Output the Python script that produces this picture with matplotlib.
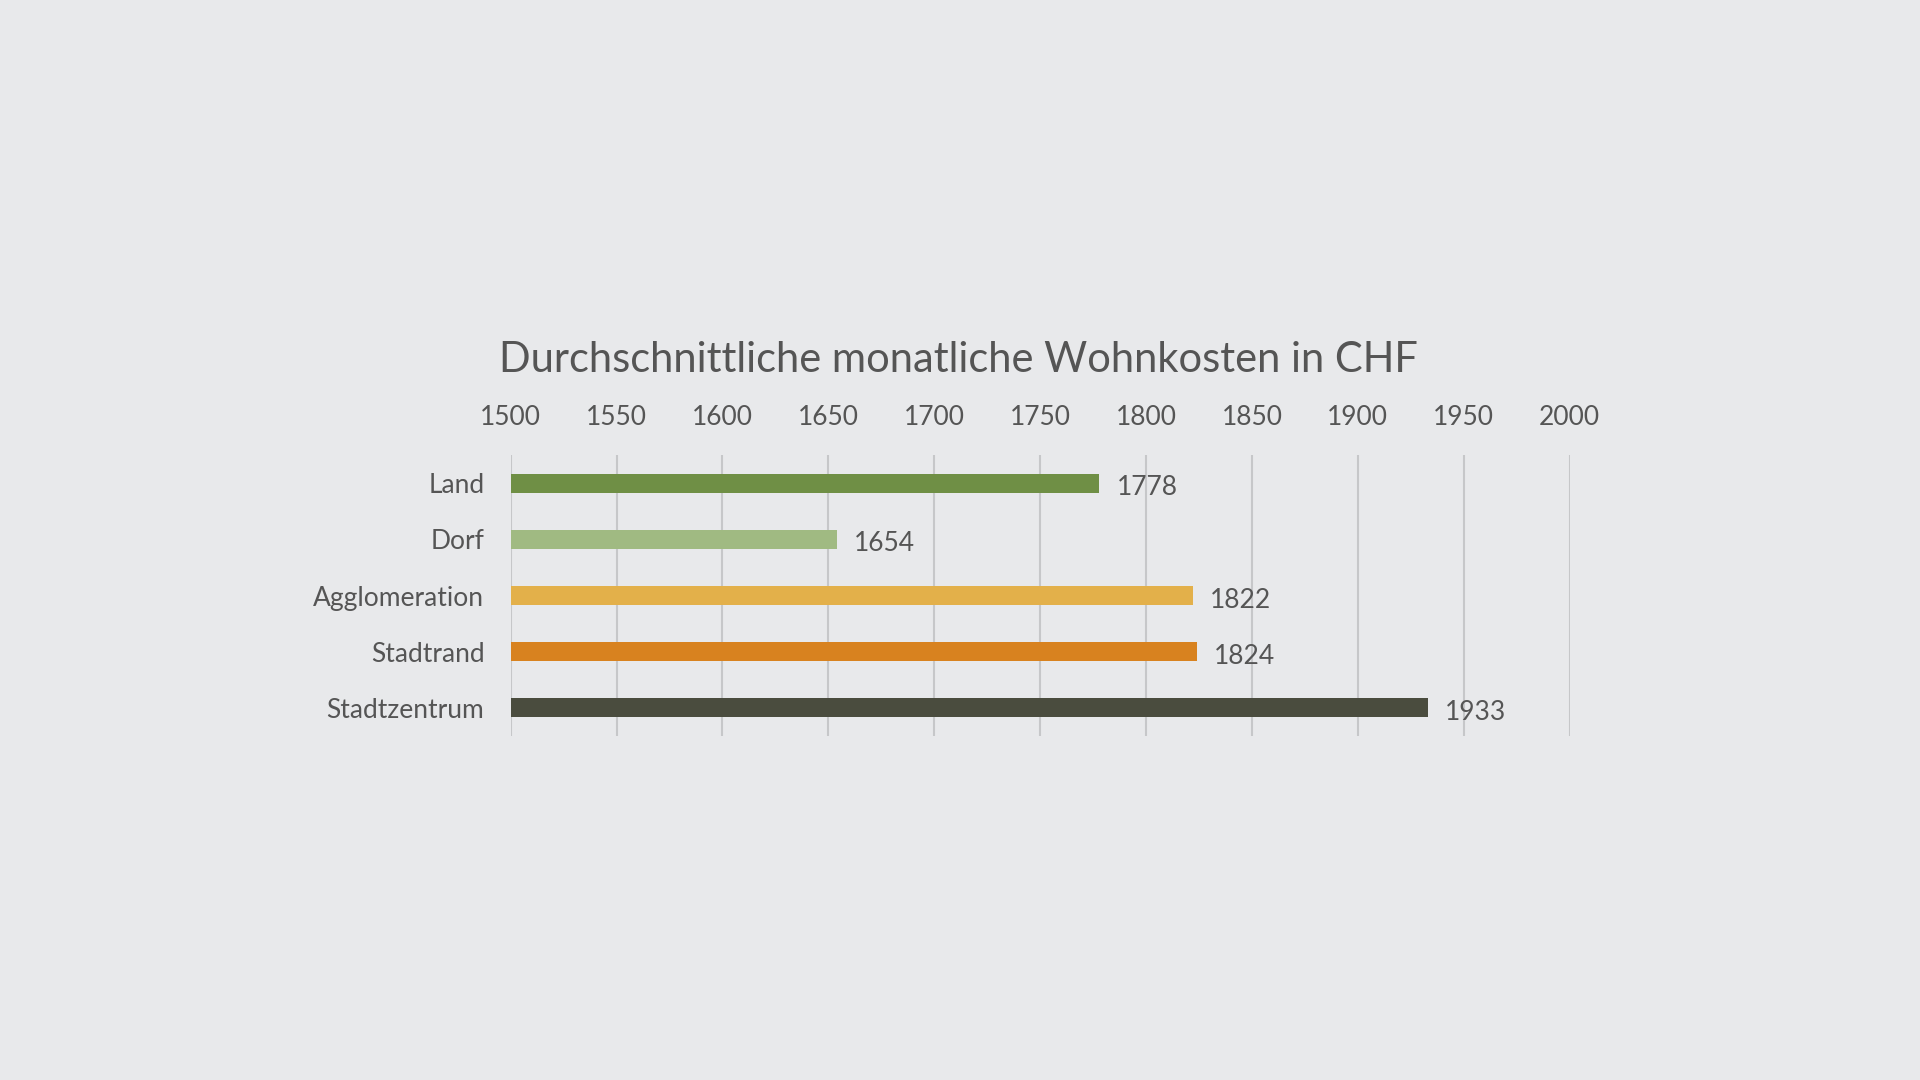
import matplotlib
matplotlib.use("Agg")
import matplotlib.pyplot as plt

# ── data ──────────────────────────────────────────────────────────────
categories = ["Land", "Dorf", "Agglomeration", "Stadtrand", "Stadtzentrum"]
values     = [1778, 1654, 1822, 1824, 1933]
colors     = ["#6f8f45", "#a0ba82", "#e3b04a", "#d8821f", "#4a4c3e"]
x_ticks    = [1500, 1550, 1600, 1650, 1700, 1750, 1800, 1850, 1900, 1950, 2000]
title      = "Durchschnittliche monatliche Wohnkosten in CHF"

BG = "#e8e9eb"
TXT = "#555555"

plt.rcParams["font.family"] = ["Lato", "DejaVu Sans"]

fig = plt.figure(figsize=(19.2, 10.8), dpi=100, facecolor=BG)
ax = fig.add_axes([0.266, 0.3185, 0.5515, 0.2602], facecolor=BG)

ypos = list(range(len(categories)))
ax.barh(ypos, [v - x_ticks[0] for v in values], left=x_ticks[0],
        height=0.34, color=colors, zorder=3)

# value labels just right of each bar
for y, v in zip(ypos, values):
    ax.text(v + 8, y + 0.08, f"{v}", va="center", ha="left",
            fontsize=19, color=TXT, zorder=4)

ax.set_xlim(x_ticks[0], x_ticks[-1])
ax.set_ylim(len(categories) - 0.5, -0.5)
ax.set_xticks(x_ticks)
ax.set_yticks(ypos)
ax.set_yticklabels(categories)
ax.xaxis.tick_top()
ax.tick_params(axis="x", length=0, pad=18, labelsize=19, labelcolor=TXT)
ax.tick_params(axis="y", length=0, pad=19, labelsize=19, labelcolor=TXT)
ax.grid(axis="x", color="#c6c7c9", lw=1.5, zorder=0)
for s in ax.spines.values():
    s.set_visible(False)

fig.text(0.499, 1 - 360 / 1080, title, ha="center", va="center",
         fontsize=30, color=TXT)

fig.savefig("out.png", dpi=100, facecolor=BG)
